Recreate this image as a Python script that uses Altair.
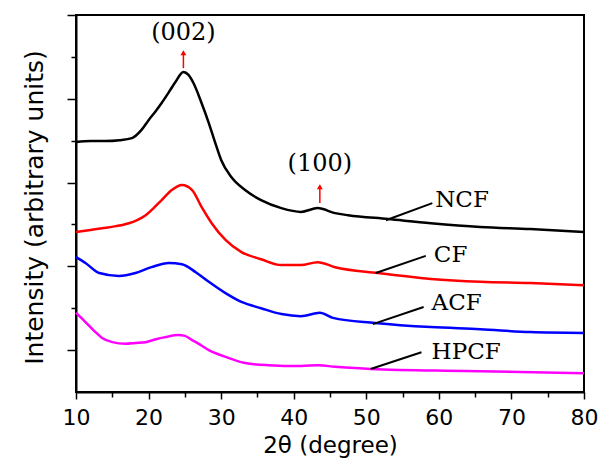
import altair as alt
import pandas as pd

# ---- data (2θ in degrees, intensity in arbitrary units) ----
ncf_x = [10, 12, 14, 16, 17.7, 19, 20, 21, 21.8, 22.8, 23.7, 24.8, 25.5, 26.2, 27.3, 28.3, 29.2, 30,
         31.4, 33.3, 35.5, 38.3, 41, 43.3, 45.7, 47.5, 53, 58.9, 65.7, 72.6, 80]
ncf_y = [5.97, 5.99, 5.99, 6.01, 6.06, 6.25, 6.49, 6.71, 6.90, 7.16, 7.40, 7.64, 7.57, 7.37, 6.90, 6.42,
         5.94, 5.54, 5.13, 4.82, 4.58, 4.39, 4.30, 4.39, 4.27, 4.22, 4.13, 4.03, 3.94, 3.89, 3.82]

cf_x = [10, 12, 13.6, 15.5, 17.3, 18.5, 19.6, 20.7, 21.8, 23.2, 24.6, 26, 27.3, 28.7, 30.6, 32.8, 35.5,
        38.3, 41, 43.3, 45.7, 51.6, 58.9, 65.7, 72.6, 80]
cf_y = [3.82, 3.87, 3.91, 3.96, 4.03, 4.11, 4.22, 4.39, 4.58, 4.82, 4.94, 4.82, 4.42, 4.03, 3.63, 3.34,
        3.17, 3.03, 3.03, 3.10, 2.98, 2.84, 2.70, 2.63, 2.60, 2.55]

acf_x = [10, 11.3, 13.2, 15.9, 18.2, 20.4, 22.8, 24.6, 26.5, 28.3, 30.6, 32.8, 35.5, 38.3, 41, 43.6,
         45.4, 51.2, 58.9, 65.7, 72.6, 80]
acf_y = [3.22, 3.08, 2.84, 2.77, 2.84, 2.98, 3.08, 3.05, 2.86, 2.63, 2.36, 2.15, 2.00, 1.86, 1.81, 1.89,
         1.77, 1.65, 1.55, 1.50, 1.43, 1.41]

hpcf_x = [10, 11.3, 12.5, 13.6, 15, 16.8, 18.2, 19.6, 21, 22.3, 24.1, 25, 26, 27.2, 28.3, 30.6, 33.3,
          36.5, 41, 43.4, 45.7, 50.6, 63.5, 80]
hpcf_y = [1.89, 1.67, 1.46, 1.29, 1.19, 1.15, 1.17, 1.19, 1.26, 1.31, 1.36, 1.34, 1.24, 1.12, 1.00, 0.84,
          0.69, 0.64, 0.62, 0.64, 0.60, 0.55, 0.50, 0.45]

series_names = ["NCF", "CF", "ACF", "HPCF"]
series_colors = ["#000000", "#ff0000", "#0000ff", "#ff00ff"]

# sample labels and their leader lines
label_x = [59.5, 59.3, 59.0, 59.0]
label_y = [4.58, 3.27, 2.12, 0.95]
leader_x = [52.7, 51.3, 50.9, 50.6]
leader_y = [4.10, 2.84, 1.62, 0.55]
leader_x2 = [59.1, 58.2, 57.9, 57.6]
leader_y2 = [4.51, 3.25, 2.03, 0.95]

# peak annotations
peak_labels = ["(002)", "(100)"]
peak_x = [24.8, 43.6]
peak_text_y = [8.57, 5.44]
arrow_y = [7.73, 4.51]
arrow_y2 = [8.10, 4.90]

x_major = [10, 20, 30, 40, 50, 60, 70, 80]
x_minor = [15, 25, 35, 45, 55, 65, 75]
y_major = [1, 3, 5, 7, 9]
y_minor = [2, 4, 6, 8]

# ---- tables ----
rows = []
for name, xs, ys in zip(series_names, [ncf_x, cf_x, acf_x, hpcf_x], [ncf_y, cf_y, acf_y, hpcf_y]):
    for i, (a, b) in enumerate(zip(xs, ys)):
        rows.append({"series": name, "x": a, "y": b, "order": i})
df = pd.DataFrame(rows)

df_lab = pd.DataFrame({"label": series_names, "x": label_x, "y": label_y})
df_lead = pd.DataFrame({"x": leader_x, "y": leader_y, "x2": leader_x2, "y2": leader_y2})
df_peak = pd.DataFrame({"label": peak_labels, "x": peak_x, "ty": peak_text_y,
                        "ay": arrow_y, "ay2": arrow_y2})

PLOT_W = 508
PLOT_H = 377

xscale = alt.Scale(domain=[10, 80], nice=False, zero=False)
yscale = alt.Scale(domain=[0, 9], nice=False, zero=False)

common_axis = dict(grid=False, domainColor="black", tickColor="black", labelColor="black",
                   titleColor="black", tickWidth=1.5)

x_major_axis = alt.Axis(values=x_major, orient="bottom", tickSize=7, domainWidth=2,
                        labelFont="DejaVu Sans", labelFontSize=22, labelBaseline="alphabetic",
                        labelPadding=25, labelFlush=False, labelOverlap=False,
                        title="2θ (degree)", titleFont="DejaVu Sans", titleFontSize=23,
                        titleFontWeight="normal", titleBaseline="alphabetic", titleAlign="center",
                        titleX=PLOT_W / 2, titleY=60, **common_axis)
y_major_axis = alt.Axis(values=y_major, orient="left", tickSize=9, domainWidth=2, labels=False,
                        title="Intensity (arbitrary units)", titleFont="DejaVu Sans",
                        titleFontSize=25, titleFontWeight="normal", titleAngle=270,
                        titleBaseline="middle", titleAlign="center", titleX=-42, titleY=192,
                        **common_axis)
x_minor_axis = alt.Axis(values=x_minor, orient="bottom", tickSize=5, labels=False, domain=False,
                        title=None, **common_axis)
y_minor_axis = alt.Axis(values=y_minor, orient="left", tickSize=5, labels=False, domain=False,
                        title=None, **common_axis)

lines = alt.Chart(df).mark_line(strokeWidth=2.5, interpolate="monotone").encode(
    x=alt.X("x:Q", scale=xscale, axis=x_major_axis),
    y=alt.Y("y:Q", scale=yscale, axis=y_major_axis),
    color=alt.Color("series:N", scale=alt.Scale(domain=series_names, range=series_colors), legend=None),
    order="order:Q",
)

leaders = alt.Chart(df_lead).mark_rule(color="black", strokeWidth=2).encode(
    x=alt.X("x:Q", scale=xscale, axis=x_minor_axis),
    y=alt.Y("y:Q", scale=yscale, axis=y_minor_axis),
    x2="x2:Q",
    y2="y2:Q",
)

labels = alt.Chart(df_lab).mark_text(font="DejaVu Serif", fontSize=23, align="left",
                                     baseline="middle", color="black").encode(
    x=alt.X("x:Q", scale=xscale, axis=None),
    y=alt.Y("y:Q", scale=yscale, axis=None),
    text="label:N",
)

peak_text = alt.Chart(df_peak).mark_text(font="DejaVu Serif", fontSize=24, align="center",
                                         baseline="middle", color="black").encode(
    x=alt.X("x:Q", scale=xscale, axis=None),
    y=alt.Y("ty:Q", scale=yscale, axis=None),
    text="label:N",
)

arrow_shaft = alt.Chart(df_peak).mark_rule(color="#ff0000", strokeWidth=1.5).encode(
    x=alt.X("x:Q", scale=xscale, axis=None),
    y=alt.Y("ay:Q", scale=yscale, axis=None),
    y2="ay2:Q",
)

arrow_head = alt.Chart(df_peak).mark_point(shape="triangle-up", filled=True, color="#ff0000",
                                           size=35, opacity=1).encode(
    x=alt.X("x:Q", scale=xscale, axis=None),
    y=alt.Y("ay2:Q", scale=yscale, axis=None),
)

chart = alt.layer(lines, leaders, labels, peak_text, arrow_shaft, arrow_head).resolve_axis(
    x="independent", y="independent"
).properties(
    width=PLOT_W, height=PLOT_H,
    padding={"left": 68, "top": 7, "right": 15, "bottom": 68},
    autosize=alt.AutoSizeParams(type="none"),
    background="white",
).configure_view(stroke="black", strokeWidth=2)

chart.save("out.html", embed_options={"renderer": "svg", "actions": False})
